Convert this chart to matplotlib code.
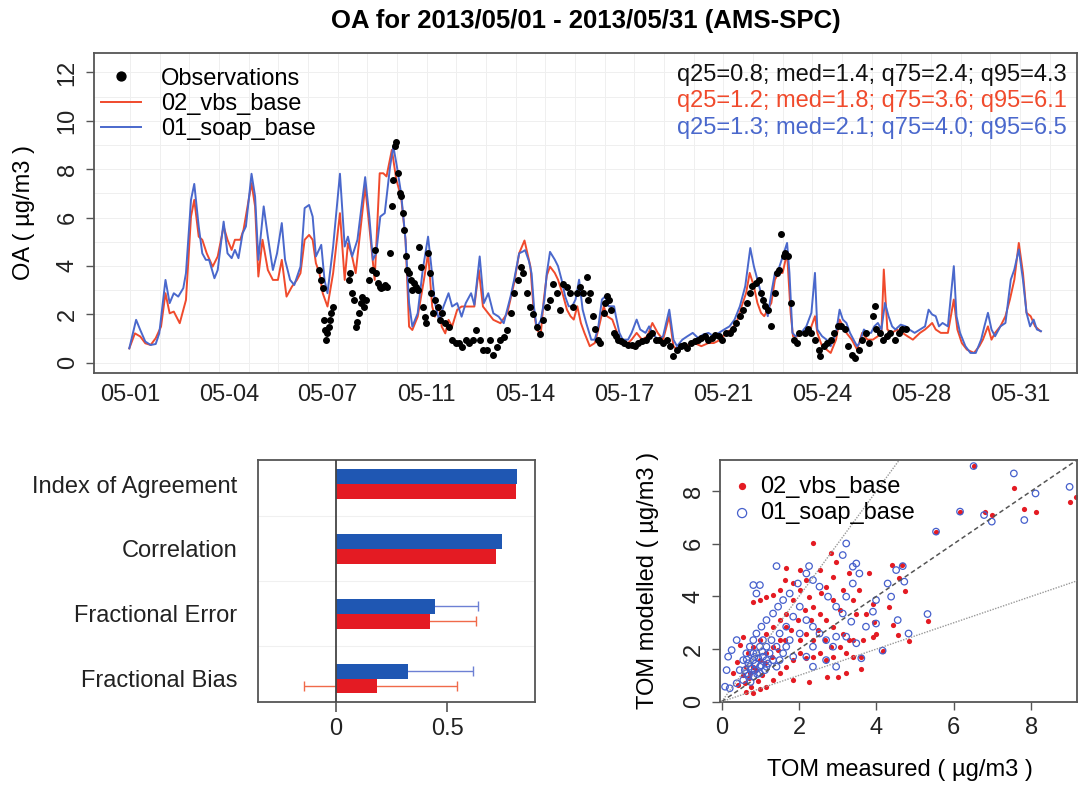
import numpy as np
import matplotlib.pyplot as plt

plt.rcParams['font.family'] = ['Liberation Sans', 'DejaVu Sans']
plt.rcParams['font.size'] = 17

RED = '#f04a2c'
BLUE = '#4a68cc'
BAR_RED = '#e41b23'
BAR_BLUE = '#1f57b3'
EDGE = '#555555'

# ---- time series (days after 05-01, OA in ug/m3) ----
date_labels = ['05-01', '05-04', '05-07', '05-11', '05-14',
               '05-17', '05-21', '05-24', '05-28', '05-31']

soap_pts = np.array([
    (-0.02, 0.59), (0.21, 1.77), (0.35, 1.35), (0.52, 0.87), (0.70, 0.73), (0.87, 0.77),
    (0.99, 1.21), (1.20, 3.42), (1.34, 2.46), (1.48, 2.87), (1.63, 2.73), (1.80, 3.08),
    (1.89, 3.70), (2.06, 6.73), (2.17, 7.39), (2.32, 5.63), (2.44, 4.52), (2.56, 4.25),
    (2.67, 4.25), (2.85, 3.49), (2.96, 3.83), (3.16, 5.83), (3.29, 4.52), (3.43, 4.32),
    (3.54, 4.66), (3.66, 4.32), (3.80, 5.35), (3.91, 5.63), (4.10, 7.81), (4.22, 6.87),
    (4.33, 4.25), (4.51, 6.46), (4.65, 5.21), (4.82, 3.83), (4.96, 4.52), (5.12, 5.77),
    (5.23, 4.25), (5.40, 3.42), (5.54, 3.21), (5.75, 3.97), (5.89, 6.39), (6.04, 6.52),
    (6.16, 6.04), (6.27, 4.39), (6.45, 4.87), (6.56, 3.42), (6.66, 2.87), (6.85, 4.80),
    (7.08, 7.81), (7.24, 4.80), (7.35, 5.21), (7.49, 4.39), (7.67, 5.08), (7.93, 7.67),
    (8.07, 6.04), (8.19, 4.25), (8.30, 4.52), (8.44, 6.04), (8.59, 6.18), (8.77, 8.11),
    (8.88, 8.94), (9.00, 8.11), (9.14, 7.01), (9.29, 5.08), (9.41, 2.46), (9.52, 1.49),
    (9.70, 2.04), (9.87, 3.83), (10.05, 5.21), (10.16, 3.97), (10.28, 2.46), (10.42, 1.77),
    (10.57, 2.32), (10.74, 2.87), (10.86, 2.32), (11.03, 2.46), (11.18, 1.90), (11.32, 2.46),
    (11.50, 2.87), (11.61, 2.39), (11.79, 4.39), (11.93, 2.46), (12.08, 2.87), (12.25, 2.04),
    (12.43, 1.90), (12.60, 1.63), (12.83, 2.73), (12.95, 3.42), (13.12, 4.52), (13.24, 4.59),
    (13.32, 4.65), (13.45, 4.20), (13.54, 3.68), (13.62, 2.30), (13.71, 1.45), (13.85, 1.75),
    (13.97, 2.60), (14.05, 3.68), (14.16, 4.58), (14.32, 4.26), (14.43, 3.99), (14.55, 3.43),
    (14.67, 2.74), (14.79, 2.33), (14.91, 2.33), (15.02, 2.61), (15.14, 3.43), (15.26, 2.19),
    (15.38, 1.64), (15.55, 0.95), (15.67, 0.95), (15.79, 1.50), (15.91, 2.61), (16.02, 2.74),
    (16.14, 2.33), (16.32, 2.33), (16.38, 1.92), (16.50, 1.23), (16.61, 0.95), (16.79, 0.95),
    (16.91, 1.23), (17.08, 1.78), (17.20, 1.37), (17.38, 1.23), (17.50, 1.50), (17.61, 1.23),
    (17.79, 0.95), (17.97, 1.09), (18.18, 2.19), (18.32, 0.95), (18.44, 0.68), (18.62, 0.95),
    (18.79, 1.09), (18.97, 1.23), (19.15, 1.02), (19.32, 1.16), (19.50, 1.23), (19.68, 1.09),
    (19.85, 1.23), (20.03, 1.37), (20.21, 1.50), (20.38, 1.78), (20.56, 2.33), (20.74, 3.16),
    (20.91, 4.74), (21.03, 3.99), (21.15, 3.43), (21.27, 2.88), (21.41, 2.33), (21.50, 1.92),
    (21.62, 2.88), (21.74, 3.71), (21.86, 3.85), (21.97, 4.26), (22.15, 4.95), (22.23, 3.71),
    (22.33, 1.23), (22.44, 1.09), (22.62, 1.23), (22.80, 1.50), (22.97, 2.06), (23.09, 3.71),
    (23.17, 1.37), (23.33, 1.09), (23.48, 0.95), (23.62, 0.68), (23.80, 1.23), (23.92, 2.19),
    (24.03, 1.78), (24.15, 1.64), (24.27, 1.23), (24.39, 0.95), (24.51, 0.68), (24.59, 0.81),
    (24.74, 1.37), (24.86, 1.23), (24.98, 1.23), (25.09, 1.50), (25.21, 1.64), (25.33, 1.37),
    (25.45, 2.47), (25.57, 1.92), (25.69, 1.50), (25.80, 1.37), (25.98, 1.57), (26.15, 1.50),
    (26.27, 1.37), (26.45, 1.23), (26.63, 1.37), (26.80, 1.50), (26.92, 2.19), (27.04, 1.99),
    (27.16, 1.92), (27.27, 1.50), (27.39, 1.64), (27.57, 1.50), (27.77, 3.99), (27.86, 1.92),
    (27.98, 1.23), (28.16, 0.68), (28.33, 0.40), (28.51, 0.40), (28.69, 0.95), (28.80, 1.50),
    (28.92, 2.06), (29.04, 1.37), (29.16, 1.09), (29.34, 1.50), (29.51, 1.64), (29.69, 3.43),
    (29.81, 3.85), (29.96, 4.68), (30.10, 3.43), (30.22, 2.06), (30.34, 1.50), (30.46, 1.78),
    (30.57, 1.37), (30.71, 1.30)])

vbs_pts = np.array([
    (-0.02, 0.59), (0.17, 1.21), (0.35, 1.08), (0.52, 0.80), (0.70, 0.73), (0.87, 1.01),
    (1.05, 1.49), (1.20, 2.87), (1.34, 2.04), (1.48, 2.11), (1.68, 1.63), (1.89, 2.59),
    (2.06, 6.04), (2.17, 6.73), (2.32, 5.21), (2.44, 5.08), (2.59, 4.52), (2.79, 3.97),
    (2.96, 4.39), (3.16, 5.63), (3.29, 5.08), (3.43, 4.66), (3.54, 5.08), (3.72, 5.08),
    (3.83, 5.49), (4.10, 7.42), (4.22, 6.46), (4.33, 3.56), (4.47, 5.08), (4.65, 3.83),
    (4.82, 3.42), (4.99, 3.42), (5.12, 4.25), (5.28, 2.73), (5.46, 3.14), (5.63, 3.42),
    (5.75, 3.70), (5.89, 5.08), (6.04, 5.28), (6.16, 5.08), (6.27, 4.11), (6.39, 3.70),
    (6.50, 2.87), (6.66, 2.32), (6.85, 3.70), (7.08, 6.18), (7.24, 3.42), (7.35, 4.94),
    (7.49, 4.39), (7.61, 3.70), (7.93, 7.28), (8.07, 5.63), (8.25, 3.42), (8.42, 7.83),
    (8.54, 7.83), (8.65, 7.70), (8.83, 8.80), (8.98, 7.56), (9.14, 6.87), (9.29, 5.08),
    (9.41, 1.49), (9.52, 1.35), (9.70, 1.90), (9.91, 3.42), (10.05, 4.52), (10.19, 2.32),
    (10.28, 1.90), (10.42, 2.32), (10.51, 1.49), (10.63, 1.21), (10.74, 1.77), (10.86, 1.49),
    (11.03, 2.18), (11.18, 2.32), (11.32, 2.32), (11.61, 2.32), (11.76, 3.83), (11.90, 2.32),
    (12.08, 2.04), (12.25, 1.77), (12.49, 1.63), (12.72, 2.04), (12.95, 3.28), (13.12, 4.52),
    (13.30, 5.05), (13.50, 3.97), (13.60, 2.30), (13.71, 1.35), (13.85, 1.21), (13.95, 2.60),
    (14.05, 3.60), (14.16, 3.97), (14.32, 3.71), (14.43, 3.43), (14.61, 2.74), (14.73, 2.19),
    (14.85, 1.92), (14.96, 1.78), (15.08, 2.33), (15.20, 1.64), (15.32, 1.23), (15.50, 0.68),
    (15.67, 0.81), (15.79, 1.37), (15.97, 2.33), (16.08, 1.92), (16.26, 1.78), (16.38, 1.37),
    (16.55, 0.81), (16.73, 0.74), (16.91, 0.95), (17.08, 1.23), (17.26, 0.95), (17.44, 1.09),
    (17.61, 1.64), (17.79, 1.23), (17.97, 0.95), (18.18, 1.92), (18.32, 0.68), (18.44, 0.54),
    (18.67, 0.68), (18.85, 0.74), (19.03, 0.81), (19.26, 0.68), (19.50, 0.81), (19.68, 0.81),
    (19.91, 0.95), (20.09, 1.23), (20.26, 1.37), (20.44, 1.64), (20.62, 2.33), (20.77, 2.88),
    (20.89, 3.71), (21.03, 3.16), (21.15, 2.47), (21.27, 2.06), (21.38, 1.92), (21.62, 2.47),
    (21.74, 3.43), (21.86, 3.71), (22.00, 3.71), (22.15, 4.54), (22.27, 2.06), (22.35, 1.09),
    (22.50, 1.09), (22.68, 1.23), (22.86, 1.23), (22.97, 1.50), (23.09, 1.92), (23.17, 1.23),
    (23.33, 0.68), (23.48, 0.54), (23.62, 0.40), (23.80, 0.95), (23.92, 1.78), (24.03, 1.50),
    (24.15, 1.23), (24.33, 0.95), (24.51, 0.54), (24.68, 1.23), (24.86, 0.95), (25.04, 0.95),
    (25.21, 1.09), (25.33, 1.23), (25.41, 3.85), (25.53, 1.37), (25.68, 1.23), (25.86, 1.37),
    (26.04, 1.23), (26.21, 1.09), (26.39, 0.95), (26.63, 1.23), (26.80, 1.37), (26.92, 1.50),
    (27.04, 1.64), (27.16, 1.37), (27.33, 1.23), (27.57, 1.23), (27.77, 2.61), (27.89, 1.37),
    (28.04, 0.81), (28.21, 0.54), (28.45, 0.40), (28.63, 0.68), (28.75, 0.95), (28.92, 1.50),
    (29.04, 0.95), (29.16, 1.23), (29.34, 1.50), (29.51, 1.92), (29.66, 2.61), (29.81, 3.43),
    (29.96, 4.95), (30.10, 3.71), (30.22, 2.06), (30.36, 1.92), (30.51, 1.50), (30.69, 1.30)])

obs_pts = np.array([
    (6.39, 3.83), (6.45, 3.42), (6.50, 3.08), (6.54, 1.77), (6.59, 1.35), (6.62, 0.94),
    (6.66, 1.21), (6.70, 1.49), (6.75, 1.77), (6.79, 2.04), (6.85, 2.32), (7.38, 3.42),
    (7.43, 3.70), (7.49, 2.87), (7.55, 2.59), (7.61, 1.49), (7.67, 1.70), (7.72, 2.04),
    (7.78, 2.46), (7.84, 2.73), (7.90, 2.32), (7.96, 2.59), (8.07, 3.42), (8.16, 3.83),
    (8.25, 4.66), (8.30, 3.70), (8.36, 3.28), (8.42, 3.14), (8.48, 3.08), (8.54, 3.14),
    (8.59, 3.21), (8.65, 3.14), (8.77, 4.52), (8.83, 6.46), (8.88, 7.56), (8.94, 8.94),
    (8.98, 9.14), (9.02, 7.83), (9.09, 7.01), (9.14, 6.87), (9.19, 6.18), (9.23, 5.49),
    (9.29, 4.39), (9.35, 3.83), (9.41, 3.70), (9.47, 3.42), (9.52, 3.01), (9.58, 3.28),
    (9.64, 3.14), (9.70, 3.01), (9.76, 4.80), (9.81, 3.97), (9.87, 2.32), (9.93, 1.90),
    (9.99, 1.63), (10.05, 4.52), (10.10, 3.70), (10.16, 2.87), (10.22, 2.04), (10.28, 2.59),
    (10.39, 2.32), (10.45, 1.77), (10.51, 2.04), (10.63, 1.63), (10.74, 1.49), (10.86, 0.94),
    (10.98, 0.80), (11.09, 0.80), (11.21, 0.66), (11.32, 0.94), (11.44, 0.80), (11.56, 0.94),
    (11.67, 1.35), (11.79, 0.94), (11.90, 0.52), (12.02, 0.52), (12.14, 0.94), (12.25, 0.32),
    (12.37, 0.66), (12.49, 0.94), (12.60, 1.08), (12.72, 1.35), (12.83, 2.04), (12.95, 2.87),
    (13.07, 3.42), (13.19, 3.97), (13.26, 3.69), (13.37, 2.86), (13.49, 2.31), (13.60, 2.03),
    (13.71, 1.48), (13.82, 1.20), (13.94, 1.75), (14.05, 2.31), (14.16, 2.58), (14.27, 3.27),
    (14.39, 2.86), (14.50, 2.17), (14.61, 3.27), (14.72, 3.13), (14.83, 2.86), (14.95, 2.31),
    (15.06, 2.86), (15.17, 3.13), (15.28, 2.86), (15.40, 3.55), (15.45, 2.58), (15.51, 2.86),
    (15.61, 1.92), (15.67, 1.37), (15.79, 0.95), (15.85, 0.81), (15.97, 2.06), (16.02, 2.47),
    (16.08, 2.74), (16.14, 2.61), (16.20, 2.19), (16.32, 1.23), (16.38, 1.09), (16.44, 0.95),
    (16.55, 0.88), (16.67, 0.81), (16.79, 0.74), (16.91, 0.74), (17.03, 0.68), (17.14, 0.81),
    (17.26, 0.88), (17.38, 0.95), (17.50, 1.09), (17.61, 1.23), (17.73, 0.95), (17.85, 0.95),
    (17.97, 0.81), (18.09, 0.95), (18.20, 0.68), (18.32, 0.26), (18.44, 0.54), (18.56, 0.68),
    (18.67, 0.74), (18.79, 0.61), (18.91, 0.81), (19.03, 0.88), (19.15, 0.95), (19.26, 1.02),
    (19.38, 1.09), (19.50, 0.95), (19.62, 1.02), (19.73, 1.16), (19.85, 1.09), (19.97, 0.95),
    (20.09, 1.23), (20.21, 1.23), (20.32, 1.37), (20.44, 1.64), (20.56, 1.92), (20.68, 2.19),
    (20.79, 2.47), (20.89, 2.88), (20.97, 3.16), (21.09, 3.30), (21.21, 3.43), (21.27, 2.88),
    (21.33, 2.61), (21.41, 2.33), (21.50, 2.19), (21.62, 1.50), (21.74, 2.88), (21.80, 3.71),
    (21.88, 3.85), (21.95, 5.32), (22.03, 4.40), (22.09, 4.54), (22.18, 4.40), (22.27, 2.47),
    (22.39, 0.95), (22.47, 0.81), (22.56, 1.23), (22.74, 1.23), (22.86, 1.37), (22.97, 1.23),
    (23.09, 0.95), (23.21, 0.54), (23.27, 0.26), (23.39, 0.68), (23.50, 0.81), (23.62, 0.95),
    (23.74, 1.23), (23.86, 1.50), (23.98, 1.50), (24.09, 1.37), (24.21, 0.68), (24.33, 0.33),
    (24.45, 0.19), (24.56, 0.54), (24.68, 0.95), (24.80, 1.23), (24.92, 0.81), (25.04, 1.92),
    (25.10, 2.33), (25.15, 1.37), (25.27, 1.23), (25.39, 0.95), (25.51, 1.09), (25.62, 1.23),
    (25.80, 0.95), (25.92, 1.23), (26.04, 1.37), (26.15, 1.37)])

stats_lines = ['q25=0.8; med=1.4; q75=2.4; q95=4.3',
               'q25=1.2; med=1.8; q75=3.6; q95=6.1',
               'q25=1.3; med=2.1; q75=4.0; q95=6.5']

# ---- model statistics (bar chart) ----
metrics = ['Index of Agreement', 'Correlation', 'Fractional Error', 'Fractional Bias']
soap_stat = [0.81, 0.743, 0.444, 0.322]
vbs_stat = [0.808, 0.716, 0.423, 0.185]
soap_lo = [np.nan, np.nan, 0.25, 0.03]
soap_hi = [np.nan, np.nan, 0.636, 0.613]
vbs_lo = [np.nan, np.nan, 0.22, -0.14]
vbs_hi = [np.nan, np.nan, 0.628, 0.544]

# ---- scatter: measured vs modelled ----
vbs_scatter = np.array([
    (2.36, 6.04), (6.51, 8.95), (7.55, 8.10), (7.82, 7.32), (8.11, 7.19), (8.99, 7.59),
    (9.16, 7.78), (6.81, 7.19), (6.98, 7.09), (6.16, 7.22), (5.54, 6.46), (5.32, 3.06),
    (4.83, 2.32), (4.16, 1.94), (4.40, 5.19), (4.65, 5.19), (4.75, 4.20), (4.58, 4.68),
    (4.33, 3.61), (4.42, 2.91), (4.55, 2.53), (3.82, 4.87), (3.91, 3.73), (3.95, 3.04),
    (3.99, 2.59), (3.73, 3.35), (3.56, 4.24), (3.59, 1.23), (3.22, 1.08), (3.00, 0.92),
    (2.72, 0.92), (2.27, 0.76), (1.85, 0.82), (2.96, 5.32), (2.83, 5.63), (2.88, 4.75),
    (2.53, 5.00), (2.19, 4.62), (2.02, 5.00), (1.67, 5.06), (1.50, 4.24), (1.33, 4.05),
    (1.16, 3.99), (0.99, 3.86), (0.82, 3.80), (0.56, 2.47), (0.47, 2.15), (0.39, 1.52),
    (0.30, 1.08), (0.43, 0.63), (0.64, 0.38), (0.82, 0.32), (0.99, 0.47), (1.16, 0.57),
    (1.33, 0.82), (1.50, 1.08), (1.67, 1.33), (1.85, 1.58), (2.02, 1.84), (2.19, 1.65),
    (2.36, 1.71), (2.53, 1.84), (2.70, 1.58), (2.88, 1.71), (3.05, 2.09), (3.22, 1.84),
    (3.39, 1.71), (3.30, 2.34), (3.13, 2.59), (2.88, 2.85), (2.70, 3.10), (2.53, 3.35),
    (2.36, 3.61), (2.27, 3.99), (2.02, 4.24), (1.85, 4.49), (1.63, 4.62), (1.85, 3.86),
    (1.67, 3.35), (1.50, 3.10), (1.33, 2.85), (1.16, 2.59), (0.99, 2.34), (0.82, 2.09),
    (0.69, 1.84), (0.64, 1.33), (0.73, 1.08), (0.90, 1.20), (1.12, 1.46), (1.29, 1.71),
    (1.46, 1.96), (1.63, 2.34), (1.80, 2.72), (1.97, 3.10), (2.15, 3.48), (2.32, 3.10),
    (2.49, 2.72), (2.66, 2.34), (2.83, 2.09), (2.36, 2.34), (2.19, 2.59), (2.02, 2.34),
    (1.67, 2.85), (1.50, 2.34), (1.33, 2.09), (1.16, 1.84), (0.99, 1.58), (0.82, 1.33),
    (3.48, 3.35), (3.39, 3.86), (3.65, 2.34), (3.61, 1.71), (3.39, 2.34), (3.91, 2.47),
    (3.30, 4.87), (3.13, 4.24), (3.05, 3.48), (2.88, 3.86), (2.70, 4.37), (2.58, 4.11),
    (0.60, 0.70), (0.75, 0.55), (0.70, 0.90), (0.95, 0.80), (1.05, 1.00), (0.55, 1.00)])

soap_scatter = np.array([
    (7.55, 8.67), (8.11, 7.91), (7.82, 6.90), (6.98, 6.84), (6.78, 7.09), (8.99, 8.16),
    (6.51, 8.95), (6.16, 7.22), (5.54, 6.46), (5.32, 3.33), (4.83, 2.59), (4.16, 1.94),
    (3.22, 6.01), (3.13, 5.57), (1.42, 5.15), (2.26, 5.15), (4.68, 5.15), (4.51, 5.00),
    (4.72, 4.56), (4.29, 4.49), (4.38, 3.99), (4.55, 3.10), (3.99, 3.86), (3.91, 3.42),
    (3.99, 2.97), (3.73, 2.85), (3.35, 3.04), (3.61, 1.65), (3.48, 2.22), (3.22, 2.47),
    (2.96, 2.47), (2.96, 1.33), (2.70, 1.58), (2.36, 1.33), (2.19, 1.71), (1.85, 1.71),
    (0.82, 4.43), (0.99, 4.43), (0.90, 4.11), (0.39, 2.34), (0.26, 1.96), (0.17, 1.71),
    (0.13, 1.20), (0.09, 0.57), (0.21, 0.51), (0.39, 0.70), (0.56, 0.82), (0.64, 1.08),
    (0.73, 1.33), (0.82, 1.58), (0.90, 1.84), (0.99, 2.09), (1.07, 2.34), (1.16, 2.09),
    (1.24, 1.84), (1.33, 1.58), (1.42, 1.33), (1.50, 1.58), (1.59, 1.84), (1.67, 2.09),
    (1.76, 2.34), (0.56, 1.58), (0.47, 1.20), (0.64, 1.84), (0.73, 2.09), (0.82, 2.34),
    (0.90, 2.59), (1.03, 2.85), (1.16, 3.10), (1.33, 3.35), (1.46, 3.61), (1.59, 3.86),
    (1.76, 4.11), (1.97, 4.49), (2.19, 4.87), (2.36, 4.62), (2.53, 4.37), (2.75, 3.99),
    (2.96, 3.61), (3.13, 3.35), (3.22, 3.99), (3.39, 4.49), (3.56, 4.87), (3.48, 5.25),
    (3.39, 5.13), (2.02, 3.61), (1.85, 3.23), (1.67, 2.85), (2.19, 3.10), (2.36, 2.85),
    (2.53, 2.59), (2.70, 2.34), (2.88, 2.09), (2.36, 2.09), (2.02, 2.59), (1.50, 2.59),
    (1.16, 1.33), (0.99, 1.08), (0.82, 0.95), (0.99, 1.33), (1.16, 1.58), (0.82, 1.84),
    (0.69, 1.46), (0.60, 1.20), (0.86, 1.20), (1.07, 1.71), (1.29, 2.34), (1.42, 2.09),
    (0.70, 1.00), (0.78, 1.25), (0.88, 1.45), (0.95, 1.65), (1.05, 1.90), (1.12, 1.20),
    (1.20, 1.45), (0.75, 0.75), (0.92, 1.05), (1.02, 1.38), (0.65, 1.60), (0.85, 1.70)])

ratios = [2.0, 1.0, 0.5]

fig = plt.figure(figsize=(10.79, 7.85), dpi=100)

# ================= top: time series =================
ax1 = fig.add_axes([0.0871, 0.5248, 0.9110, 0.4076])
ax1.plot(vbs_pts[:, 0], vbs_pts[:, 1], color=RED, lw=1.4, label='02_vbs_base', zorder=3)
ax1.plot(soap_pts[:, 0], soap_pts[:, 1], color=BLUE, lw=1.4, label='01_soap_base', zorder=4)
ax1.plot(obs_pts[:, 0], obs_pts[:, 1], 'o', color='black', ms=4, linestyle='none',
         label='Observations', zorder=5)

ax1.set_xlim(-1.21, 31.92)
ax1.set_ylim(-0.43, 12.8)
ax1.set_xticks(np.arange(len(date_labels)) * 30 / 9)
ax1.set_xticklabels(date_labels)
ax1.set_yticks(np.arange(0, 13, 2))
ax1.set_yticklabels([str(v) for v in range(0, 13, 2)], rotation=90, va='center')
ax1.tick_params(axis='x', length=0, pad=8, colors='#222222')
ax1.tick_params(axis='y', length=6, width=1, direction='out', pad=5, color=EDGE, labelcolor='#222222')
for d in range(0, 32):
    ax1.axvline(d, color='#efefef', lw=0.7, zorder=0)
for v in range(0, 13):
    ax1.axhline(v, color='#efefef', lw=0.7, zorder=0)
for s in ax1.spines.values():
    s.set_color(EDGE)
    s.set_linewidth(1.3)

h, l = ax1.get_legend_handles_labels()
ax1.legend([h[2], h[0], h[1]], [l[2], l[0], l[1]], loc='upper left', frameon=False,
           bbox_to_anchor=(0.0, 0.977), borderaxespad=0.0, borderpad=0.3,
           handlelength=1.7, handletextpad=0.83, labelspacing=0.14, markerscale=1.6)

stat_colors = ['#111111', RED, BLUE]
stat_y = [0.931, 0.850, 0.766]
for txt, c, y in zip(stats_lines, stat_colors, stat_y):
    ax1.text(0.99, y, txt, color=c, ha='right', va='center', transform=ax1.transAxes)

fig.text(24 / 1079, 1 - 213 / 785, 'OA ( µg/m3 )', rotation=90, ha='center', va='center')
fig.text(586 / 1079, 1 - 21 / 785, 'OA for 2013/05/01 - 2013/05/31 (AMS-SPC)',
         ha='center', va='center', fontsize=18.5, fontweight='bold')

# ================= bottom left: statistics =================
ax2 = fig.add_axes([0.2391, 0.1061, 0.2563, 0.3079])
ypos = np.arange(len(metrics))[::-1] + 1.0
bh = 0.226
ax2.barh(ypos + bh / 2, soap_stat, height=bh, color=BAR_BLUE, zorder=3)
ax2.barh(ypos - bh / 2, vbs_stat, height=bh, color=BAR_RED, zorder=3)
for y, s, lo, hi in zip(ypos, soap_stat, soap_lo, soap_hi):
    if not np.isnan(lo):
        ax2.errorbar(s, y + bh / 2, xerr=[[s - lo], [hi - s]], fmt='none',
                     ecolor='#6d80d4', elinewidth=1.0, capsize=3.5, capthick=1.0, zorder=2)
for y, s, lo, hi in zip(ypos, vbs_stat, vbs_lo, vbs_hi):
    if not np.isnan(lo):
        ax2.errorbar(s, y - bh / 2, xerr=[[s - lo], [hi - s]], fmt='none',
                     ecolor='#f06a4a', elinewidth=1.0, capsize=3.5, capthick=1.0, zorder=2)
for y in [1.5, 2.5, 3.5]:
    ax2.axhline(y, color='#f0f0f0', lw=0.8, zorder=0)
ax2.axvline(0, color='#444444', lw=1.3, zorder=4)
ax2.set_xlim(-0.347, 0.89)
ax2.set_ylim(0.646, 4.37)
ax2.set_yticks(ypos)
ax2.set_yticklabels(metrics)
ax2.set_xticks([0, 0.5])
ax2.set_xticklabels(['0', '0.5'])
ax2.tick_params(axis='y', length=0, pad=15, labelcolor='#222222')
ax2.tick_params(axis='x', length=7, width=1.2, direction='out', pad=5, color=EDGE, labelcolor='#222222')
for s in ax2.spines.values():
    s.set_color(EDGE)
    s.set_linewidth(1.3)

# ================= bottom right: scatter =================
ax3 = fig.add_axes([0.6673, 0.1061, 0.3308, 0.3079])
ax3.scatter(vbs_scatter[:, 0], vbs_scatter[:, 1], s=14, color=BAR_RED, linewidths=0,
            label='02_vbs_base', zorder=2)
ax3.scatter(soap_scatter[:, 0], soap_scatter[:, 1], s=22, facecolors='none',
            edgecolors='#4660cc', linewidths=0.9, label='01_soap_base', zorder=3)
xr = np.array([0.0, 9.3])
for r in ratios:
    if r == 1.0:
        ax3.plot(xr, r * xr, color='#555555', lw=1.1, ls=(0, (3, 2)), zorder=4)
    else:
        ax3.plot(xr, r * xr, color='#999999', lw=1.0, ls=(0, (1, 1)), zorder=4)
ax3.set_xlim(-0.04, 9.18)
ax3.set_ylim(0, 9.18)
ax3.set_xticks([0, 2, 4, 6, 8])
ax3.set_yticks([0, 2, 4, 6, 8])
ax3.set_yticklabels(['0', '2', '4', '6', '8'], rotation=90, va='center')
ax3.tick_params(length=6, width=1, direction='out', pad=5, color=EDGE, labelcolor='#222222')
for s in ax3.spines.values():
    s.set_color(EDGE)
    s.set_linewidth(1.3)
ax3.legend(loc='upper left', frameon=False, bbox_to_anchor=(0.0, 0.965), borderaxespad=0.0,
           borderpad=0.3, handlelength=1.27, handletextpad=0.13, labelspacing=0.2,
           markerscale=1.4, scatterpoints=1)

fig.text(648 / 1079, 1 - 580 / 785, 'TOM modelled ( µg/m3 )', rotation=90, ha='center', va='center')
fig.text(900 / 1079, 1 - 770 / 785, 'TOM measured ( µg/m3 )', ha='center', va='center')

fig.savefig('out.png', dpi=100)
